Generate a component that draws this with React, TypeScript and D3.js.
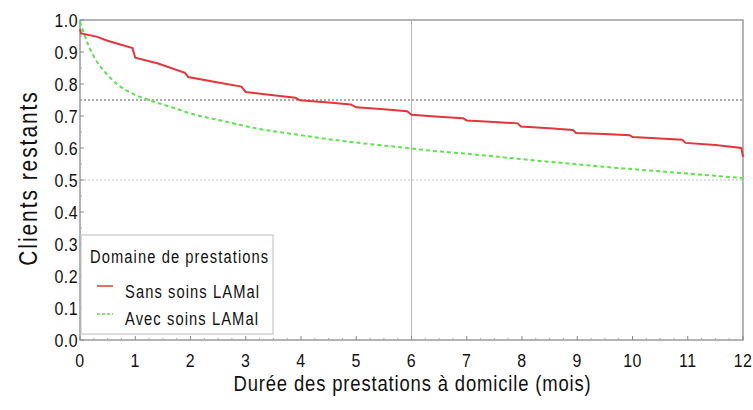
import React from 'react';
import * as d3 from 'd3';

// Sans soins LAMal
const sansTimes = [0, 0.02, 0.3, 0.5, 0.95, 1.0, 1.4, 1.9, 1.96, 2.5, 2.92, 3.0, 3.5, 3.9, 3.98, 4.5, 4.9, 5.0, 5.5, 5.92, 6.0, 6.5, 6.93, 7.0, 7.5, 7.92, 7.98, 8.5, 8.92, 8.98, 9.5, 9.95, 10.0, 10.5, 10.9, 10.96, 11.5, 11.97, 12.0];
const sansValues = [0.972, 0.958, 0.948, 0.935, 0.912, 0.882, 0.865, 0.835, 0.822, 0.805, 0.792, 0.775, 0.765, 0.757, 0.749, 0.742, 0.736, 0.727, 0.721, 0.715, 0.704, 0.698, 0.693, 0.686, 0.681, 0.677, 0.667, 0.662, 0.656, 0.647, 0.644, 0.64, 0.634, 0.63, 0.626, 0.616, 0.609, 0.6, 0.572];

// Avec soins LAMal
const avecTimes = [0, 0.15, 0.27, 0.45, 0.69, 1.0, 1.3, 1.72, 2.0, 2.6, 3.2, 4.0, 4.4, 5.0, 5.97, 6.33, 7.0, 7.6, 8.0, 8.5, 9.0, 9.5, 10.0, 10.5, 11.0, 11.5, 12.0];
const avecValues = [0.995, 0.922, 0.88, 0.838, 0.797, 0.766, 0.747, 0.724, 0.708, 0.684, 0.661, 0.64, 0.63, 0.617, 0.599, 0.592, 0.582, 0.572, 0.565, 0.557, 0.549, 0.541, 0.534, 0.527, 0.52, 0.513, 0.506];

const xTicks = d3.range(0, 13);
const yTicks = d3.range(0, 11).map(i => i / 10);
const refLinesY = [0.75, 0.5];
const refLineX = 6;

const W = 753;
const H = 410;
const font = '"Liberation Sans", Arial, sans-serif';
const SX = 0.84;

// narrow text: Arial scaled horizontally
const NText: React.FC<{ x: number; y: number; size: number; anchor?: string; ls?: number; rotate?: number; children: React.ReactNode }> =
  ({ x, y, size, anchor = 'start', ls = 0, rotate = 0, children }) => (
    <text
      transform={`translate(${x},${y}) rotate(${rotate}) scale(${SX},1)`}
      textAnchor={anchor}
      fontFamily={font}
      fontSize={size}
      letterSpacing={ls}
      fill="#111"
    >
      {children}
    </text>
  );

const App: React.FC = () => {
  const margin = { left: 80, right: 10, top: 20, bottom: 70 };
  const x = d3.scaleLinear().domain([0, 12]).range([margin.left, W - margin.right]);
  const y = d3.scaleLinear().domain([0, 1]).range([H - margin.bottom, margin.top]);

  const sans = sansTimes.map((t, i) => [t, sansValues[i]] as [number, number]);
  const avec = avecTimes.map((t, i) => [t, avecValues[i]] as [number, number]);

  const redLine = d3.line<[number, number]>().x(d => x(d[0])).y(d => y(d[1]));
  const greenLine = d3.line<[number, number]>().x(d => x(d[0])).y(d => y(d[1])).curve(d3.curveMonotoneX);

  const xMinor = d3.range(0, 12.01, 0.25).filter(v => Math.abs(v - Math.round(v)) > 0.01);
  const yMinor = d3.range(0.05, 1, 0.1);

  const x0 = x(0), x1 = x(12), y0 = y(0), y1 = y(1);

  return (
    <svg width={W} height={H} style={{ position: 'absolute', left: 0, top: 0, background: '#fff' }}>
      {/* reference lines */}
      {refLinesY.map((v, i) => (
        <line key={v} x1={x0} x2={x1} y1={y(v)} y2={y(v)}
          stroke={i === 0 ? '#555' : '#bbb'} strokeWidth={1} strokeDasharray="2,2" />
      ))}
      <line x1={x(refLineX)} x2={x(refLineX)} y1={y1} y2={y0} stroke="#b5b5b5" strokeWidth={1} />

      {/* frame */}
      <rect x={x0} y={y1} width={x1 - x0} height={y0 - y1} fill="none" stroke="#9a9a9a" strokeWidth={1.5} />

      {/* curves */}
      <path d={greenLine(avec) || ''} fill="none" stroke="#5ee34f" strokeWidth={2} strokeDasharray="4,3" />
      <path d={redLine(sans) || ''} fill="none" stroke="#e4353a" strokeWidth={2} />

      {/* x ticks */}
      {xMinor.map(v => (
        <line key={'xm' + v} x1={x(v)} x2={x(v)} y1={y0} y2={y0 - 2} stroke="#aaa" />
      ))}
      {xTicks.map(v => (
        <g key={'x' + v}>
          <line x1={x(v)} x2={x(v)} y1={y0} y2={y0 - 4} stroke="#888" />
          <NText x={x(v)} y={y0 + 27} size={19} anchor="middle" ls={0.5}>{v}</NText>
        </g>
      ))}
      {/* y ticks */}
      {yMinor.map(v => (
        <line key={'ym' + v} x1={x0} x2={x0 + 2} y1={y(v)} y2={y(v)} stroke="#aaa" />
      ))}
      {yTicks.map(v => (
        <g key={'y' + v}>
          <line x1={x0} x2={x0 + 4} y1={y(v)} y2={y(v)} stroke="#888" />
          <NText x={x0 - 2} y={y(v) + 7} size={19} anchor="end" ls={0.5}>{v.toFixed(1)}</NText>
        </g>
      ))}

      {/* axis titles */}
      <NText x={(x0 + x1) / 2 + 1} y={391} size={22} anchor="middle" ls={1}>
        Durée des prestations à domicile (mois)
      </NText>
      <NText x={37} y={(y0 + y1) / 2 - 2} size={25} anchor="middle" ls={2.3} rotate={-90}>
        Clients restants
      </NText>

      {/* legend */}
      <g>
        <rect x={x0 + 1} y={235} width={192} height={99} fill="#fff" stroke="#bbb" strokeWidth={1} />
        <NText x={90} y={263} size={17.5} ls={1.3}>Domaine de prestations</NText>
        <line x1={97} x2={113} y1={286} y2={286} stroke="#ee6a6a" strokeWidth={2} />
        <NText x={125} y={298} size={17.5} ls={1.3}>Sans soins LAMal</NText>
        <line x1={97} x2={113} y1={314} y2={314} stroke="#7ee86e" strokeWidth={2} strokeDasharray="3,2" />
        <NText x={125} y={325} size={17.5} ls={1.3}>Avec soins LAMal</NText>
      </g>
    </svg>
  );
};

export default App;
